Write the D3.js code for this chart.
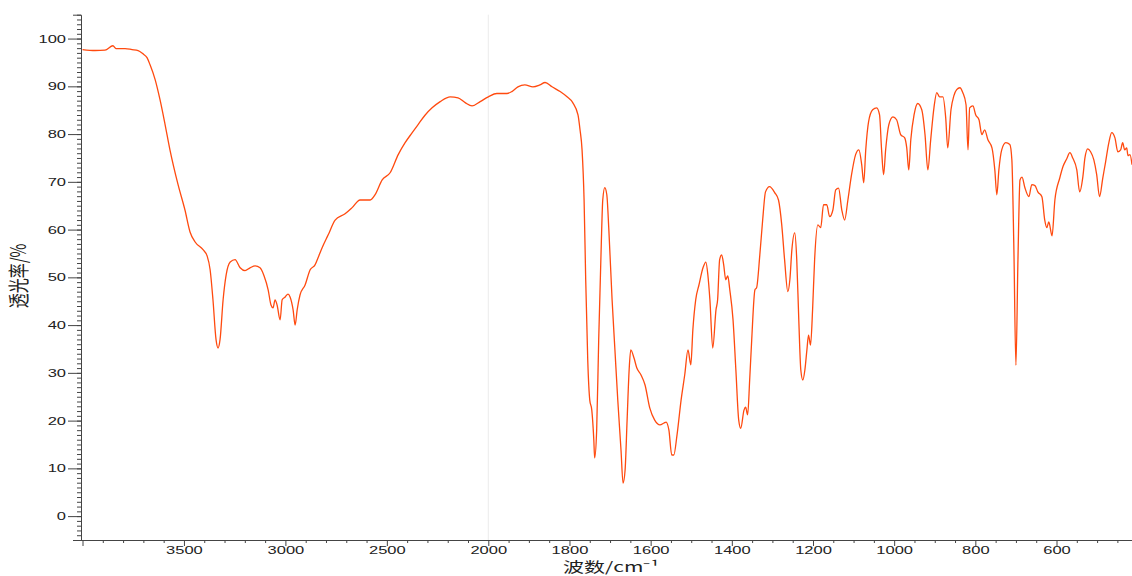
<!DOCTYPE html>
<html>
<head>
<meta charset="utf-8">
<script src="https://cdn.jsdelivr.net/npm/d3@7"></script>
<style>
body{margin:0;background:#fff;}
svg{display:block;}
.axis text{font-family:"Liberation Sans",Arial,sans-serif;font-size:11px;fill:#222;}
.axis path,.axis line{stroke:#444;}
.title{font-family:"Noto Sans CJK SC","Liberation Sans",sans-serif;font-size:15px;fill:#222;}
</style>
</head>
<body>
<script>
// spectrum (wavenumber cm-1, transmittance %)
var wavenumber=[4000,3938,3889,3850,3835,3790,3756,3726,3702,3682,3667,3642,3618,3593,3569,3529,3495,3470,3445,3406,3386,3371,3357,3342,3332,3322,3307,3292,3272,3248,3223,3199,3174,3149,3125,3105,3085,3071,3061,3051,3041,3026,3016,3001,2987,2977,2962,2952,2942,2928,2903,2878,2854,2839,2819,2789,2755,2706,2671,2632,2582,2558,2523,2484,2444,2410,2375,2346,2311,2277,2237,2188,2149,2114,2080,2040,2000,
1979,1954,1942,1927,1910,1890,1873,1860,1843,1823,1806,1792,1779,1774,1769,1764,1760,1755,1750,1745,1740,1738,1733,1728,1722,1718,1713,1708,1703,1695,1688,1681,1673,1668,1663,1658,1653,1649,1641,1634,1624,1614,1602,1590,1577,1567,1562,1555,1548,1543,1535,1525,1516,1508,1501,1496,1489,1481,1471,1464,1459,1454,1447,1439,1435,1430,1425,1420,1415,1410,1405,1397,1390,1383,1378,1370,1366,1361,1356,1351,1343,1339,1331,1324,1317,1307,1294,1285,1277,1270,1262,1257,1252,1245,1240,1235,1230,1225,1220,1215,1211,1206,1201,1196,1188,1181,1174,1166,1159,1151,1144,1137,1129,1122,1114,1105,1095,1087,1080,1075,1070,1063,1053,1043,1036,1031,1026,1021,1013,1003,994,984,974,969,964,959,951,942,932,924,917,910,902,895,888,880,873,868,860,853,846,838,831,823,818,814,806,799,791,784,777,769,759,752,747,742,735,725,715,710,705,700,695,690,685,678,668,661,653,646,636,629,624,619,611,604,592,584,575,567,560,550,543,535,530,523,516,508,501,494,486,479,471,464,456,449,442,437,432,427,424,419,414];
var transmittance=[97.7,97.5,97.6,98.5,97.9,97.9,97.7,97.5,96.8,96,94.5,91.4,87.2,82,76.7,69.4,64.1,59.5,57.4,55.8,54.5,51.6,45.3,37,35.2,37,45.3,50.5,53.2,53.7,52,51.4,52,52.4,52,50.3,47.4,44.2,43.6,45.3,44.2,41.1,45.3,45.9,46.5,45.9,43.2,40,43.2,46.3,48.4,51.6,52.6,54.1,56.2,58.9,62,63.3,64.6,66.2,66.2,67.3,70.4,71.9,75.7,78.2,80.3,82,84,85.5,86.8,87.8,87.6,86.6,85.9,86.8,87.8,
88.5,88.5,88.9,89.9,90.3,89.9,90.3,90.8,89.9,88.9,87.8,86.6,84,80.9,76.7,66.2,49.5,32.7,24.3,22.2,15.9,12.2,18,36.9,55.8,66.2,68.8,67.3,60,45.3,34.8,24.3,13.8,6.9,9.6,20.1,30.6,34.8,33.1,31,29.6,27.5,22.6,20.1,19.1,19.5,19.7,18,12.8,12.8,17,24.3,29.6,34.8,31.7,39,45.3,48.4,52,53.2,50.5,45.3,35.2,43.2,45.3,53.7,54.7,52.6,49.5,50.3,47.4,41.1,30.6,20.1,18.4,22.2,22.8,21.2,28.5,36.9,47.4,47.8,54.7,62,67.9,69,67.7,66.2,61,53.7,47,49.5,55.8,59.3,53.7,41.1,30.6,28.5,30.6,34.8,37.9,35.8,43.2,53.7,61,60.4,65.2,65.2,62.7,64.1,68.3,68.7,64.1,62,66.2,71.5,75.7,76.7,73.6,69.8,76.7,82.6,85.1,85.5,84,76.7,71.5,76.7,82,83.6,83,79.9,79.2,77.1,72.5,78.8,84,86.4,85.1,79.9,72.5,78.8,85.5,88.7,87.8,87.8,83.4,77.1,85.1,88,89.3,89.7,88.7,86.2,76.7,85.5,85.9,84,83,79.9,80.9,78.8,77.1,72.5,67.3,72.5,76.7,78.2,77.8,74.6,55.8,31.6,53.7,70.4,71,68.8,66.9,69.4,69.2,67.9,66.9,62,60.4,61.6,58.7,66.2,70.8,73.2,74.8,76.1,75,72.5,67.9,71.1,75,76.9,76.3,74.6,71.5,66.9,70.8,74.2,78.2,80.3,79.2,76.3,76.7,78.2,76.7,77.1,75.5,75.7,73.6];

var xMajorTicks=[4000,3500,3000,2500,2000,1800,1600,1400,1200,1000,800,600];
var xTickLabels=['','3500','3000','2500','2000','1800','1600','1400','1200','1000','800','600'];
var yMajorTicks=[0,10,20,30,40,50,60,70,80,90,100];
var xTitle='波数/cm⁻¹';
var yTitle='透光率/%';

var width=1132,height=576;
var svg=d3.select('body').append('svg').attr('width',width).attr('height',height);

// two-part wavenumber axis, break at 2000
var x=d3.scaleLinear().domain([4000,2000,414]).range([82.5,488.3,1132]);
var y=d3.scaleLinear().domain([-5,105]).range([540,14.7]);

svg.append('line')
.attr('x1',x(2000)).attr('x2',x(2000))
.attr('y1',y(105)).attr('y2',y(-5))
.style('stroke','#ebebeb');

var data=wavenumber.map((w,i)=>[w,transmittance[i]]);
var line=d3.line()
.x(d=>x(d[0]))
.y(d=>y(d[1]))
.curve(d3.curveMonotoneX);

svg.append('path')
.datum(data)
.attr('d',line)
.style('fill','none')
.style('stroke','#ff4a0f')
.style('stroke-width',1.3);

// x minor ticks
var xMinor=d3.range(3900,2000,-100).concat(d3.range(1950,414,-50))
.filter(d=>xMajorTicks.indexOf(d)<0);
svg.append('g').attr('class','axis')
.attr('transform','translate(0,540)')
.call(d3.axisBottom(x).tickValues(xMinor).tickSize(3).tickFormat(''))
.select('.domain').remove();

var xAxis=svg.append('g').attr('class','axis')
.attr('transform','translate(0,540)')
.call(d3.axisBottom(x).tickValues(xMajorTicks).tickSize(6).tickSizeOuter(0).tickPadding(0)
.tickFormat((d,i)=>xTickLabels[i]));
xAxis.select('.domain').attr('d','M73,0.5H1132');
xAxis.selectAll('text').attr('transform','scale(1.5,1)');

// y minor ticks
svg.append('g').attr('class','axis')
.attr('transform','translate(81,0)')
.call(d3.axisLeft(y).tickValues(d3.range(-5,106)).tickSize(4).tickFormat(''))
.select('.domain').remove();

var yAxis=svg.append('g').attr('class','axis')
.attr('transform','translate(81,0)')
.call(d3.axisLeft(y).tickValues(yMajorTicks).tickSize(13).tickSizeOuter(8).tickPadding(1));
yAxis.selectAll('text').attr('x',-15/1.5).attr('transform','scale(1.5,1)');

svg.append('text')
.attr('class','title')
.attr('text-anchor','middle')
.style('font-size','14px')
.attr('transform','translate(611,572) scale(1.5,1)')
.text(xTitle);

svg.append('text')
.attr('class','title')
.attr('text-anchor','middle')
.attr('transform','translate(26,276) scale(1.4,1) rotate(-90)')
.text(yTitle);
</script>
</body>
</html>
